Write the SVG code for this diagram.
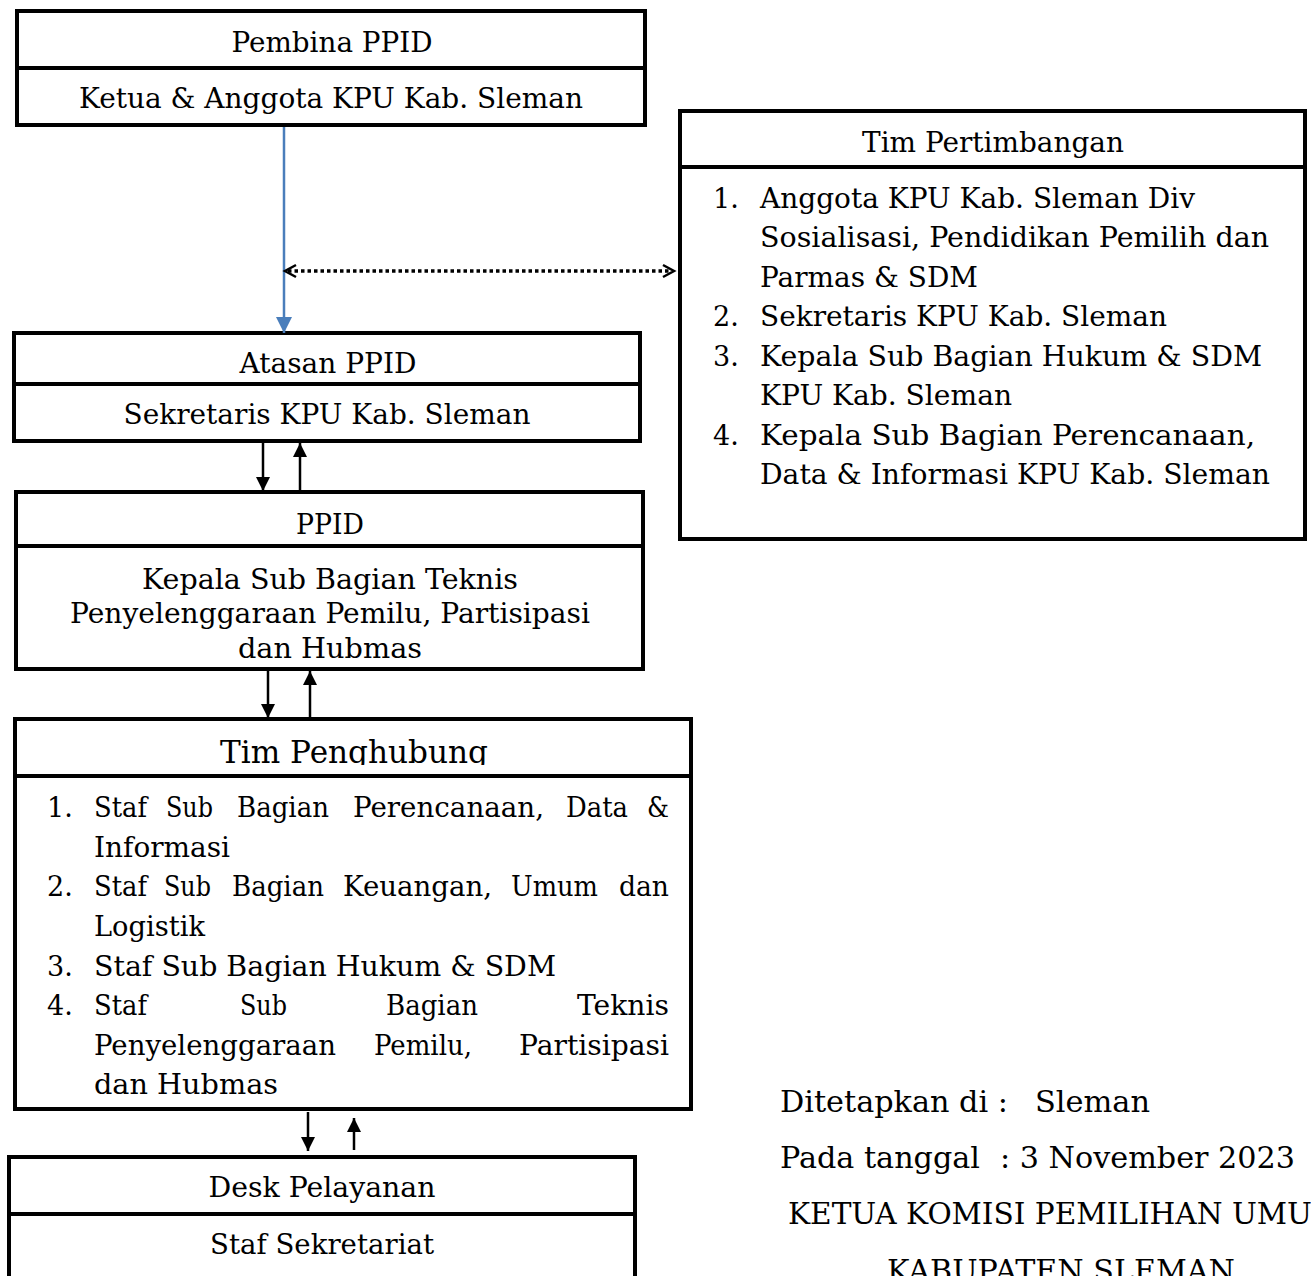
<svg xmlns="http://www.w3.org/2000/svg" width="1311" height="1276" viewBox="0 0 1311 1276">
<style>
.box{fill:#fff;stroke:#000;stroke-width:4}
.div{stroke:#000;stroke-width:4}
.t{font-family:"DejaVu Serif","Liberation Serif",serif;font-size:27px;fill:#000}
.s{font-size:29px}
.tc{text-anchor:middle}
.ar{stroke:#000;stroke-width:2.5;fill:none}
</style>
<defs>
<marker id="ah" markerUnits="userSpaceOnUse" markerWidth="14" markerHeight="16" viewBox="0 0 14 16" refX="14" refY="8" orient="auto">
<path d="M0,1 L14,8 L0,15 Z" fill="#000"/>
</marker>
<marker id="ahb" markerUnits="userSpaceOnUse" markerWidth="16" markerHeight="16" viewBox="0 0 16 16" refX="16" refY="8" orient="auto">
<path d="M0,0 L16,8 L0,16 Z" fill="#4a7ebb"/>
</marker>
<clipPath id="clipPeng"><rect x="15" y="719" width="676" height="46"/></clipPath>
</defs>

<g id="pembina">
<rect class="box" x="17" y="11" width="628" height="114"/>
<line class="div" x1="17" y1="68" x2="645" y2="68"/>
<text class="t tc" x="332" y="52" textLength="201" lengthAdjust="spacingAndGlyphs">Pembina PPID</text>
<text class="t tc" x="331" y="108" textLength="504" lengthAdjust="spacingAndGlyphs">Ketua &amp; Anggota KPU Kab. Sleman</text>
</g>

<g id="tim-pertimbangan">
<rect class="box" x="680" y="111" width="625" height="428"/>
<line class="div" x1="680" y1="167" x2="1305" y2="167"/>
<text class="t tc" x="993" y="152" textLength="262" lengthAdjust="spacingAndGlyphs">Tim Pertimbangan</text>
<text class="t" x="713" y="208">1.</text>
<text class="t" x="760" y="208" textLength="435" lengthAdjust="spacingAndGlyphs">Anggota KPU Kab. Sleman Div</text>
<text class="t" x="760" y="247" textLength="509" lengthAdjust="spacingAndGlyphs">Sosialisasi, Pendidikan Pemilih dan</text>
<text class="t" x="760" y="287" textLength="218" lengthAdjust="spacingAndGlyphs">Parmas &amp; SDM</text>
<text class="t" x="713" y="326">2.</text>
<text class="t" x="760" y="326" textLength="407" lengthAdjust="spacingAndGlyphs">Sekretaris KPU Kab. Sleman</text>
<text class="t" x="713" y="366">3.</text>
<text class="t" x="760" y="366" textLength="502" lengthAdjust="spacingAndGlyphs">Kepala Sub Bagian Hukum &amp; SDM</text>
<text class="t" x="760" y="405" textLength="252" lengthAdjust="spacingAndGlyphs">KPU Kab. Sleman</text>
<text class="t" x="713" y="445">4.</text>
<text class="t" x="760" y="445" textLength="495" lengthAdjust="spacingAndGlyphs">Kepala Sub Bagian Perencanaan,</text>
<text class="t" x="760" y="484" textLength="510" lengthAdjust="spacingAndGlyphs">Data &amp; Informasi KPU Kab. Sleman</text>
</g>

<g id="atasan">
<rect class="box" x="14" y="333" width="626" height="108"/>
<line class="div" x1="14" y1="384" x2="640" y2="384"/>
<text class="t tc" x="328" y="373" textLength="177" lengthAdjust="spacingAndGlyphs">Atasan PPID</text>
<text class="t tc" x="327" y="424" textLength="407" lengthAdjust="spacingAndGlyphs">Sekretaris KPU Kab. Sleman</text>
</g>

<g id="ppid">
<rect class="box" x="16" y="492" width="627" height="177"/>
<line class="div" x1="16" y1="546" x2="643" y2="546"/>
<text class="t tc" x="330" y="534" textLength="68" lengthAdjust="spacingAndGlyphs">PPID</text>
<text class="t tc" x="330" y="589" textLength="376" lengthAdjust="spacingAndGlyphs">Kepala Sub Bagian Teknis</text>
<text class="t tc" x="330" y="623" textLength="520" lengthAdjust="spacingAndGlyphs">Penyelenggaraan Pemilu, Partisipasi</text>
<text class="t tc" x="330" y="658" textLength="184" lengthAdjust="spacingAndGlyphs">dan Hubmas</text>
</g>

<g id="tim-penghubung">
<rect class="box" x="15" y="719" width="676" height="390"/>
<line class="div" x1="15" y1="776" x2="691" y2="776"/>
<text class="t tc" x="354" y="763" style="font-size:31px" textLength="268" lengthAdjust="spacingAndGlyphs" clip-path="url(#clipPeng)">Tim Penghubung</text>
<text class="t" x="47" y="817">1.</text>
<text class="t" x="94" y="817" textLength="53" lengthAdjust="spacingAndGlyphs">Staf</text>
<text class="t" x="166" y="817" textLength="47" lengthAdjust="spacingAndGlyphs">Sub</text>
<text class="t" x="237" y="817" textLength="92" lengthAdjust="spacingAndGlyphs">Bagian</text>
<text class="t" x="353" y="817" textLength="191" lengthAdjust="spacingAndGlyphs">Perencanaan,</text>
<text class="t" x="566" y="817" textLength="62" lengthAdjust="spacingAndGlyphs">Data</text>
<text class="t" x="647" y="817" textLength="22" lengthAdjust="spacingAndGlyphs">&amp;</text>
<text class="t" x="94" y="857" textLength="136" lengthAdjust="spacingAndGlyphs">Informasi</text>
<text class="t" x="47" y="896">2.</text>
<text class="t" x="94" y="896" textLength="53" lengthAdjust="spacingAndGlyphs">Staf</text>
<text class="t" x="164" y="896" textLength="47" lengthAdjust="spacingAndGlyphs">Sub</text>
<text class="t" x="232" y="896" textLength="92" lengthAdjust="spacingAndGlyphs">Bagian</text>
<text class="t" x="343" y="896" textLength="149" lengthAdjust="spacingAndGlyphs">Keuangan,</text>
<text class="t" x="511" y="896" textLength="87" lengthAdjust="spacingAndGlyphs">Umum</text>
<text class="t" x="619" y="896" textLength="50" lengthAdjust="spacingAndGlyphs">dan</text>
<text class="t" x="94" y="936" textLength="111" lengthAdjust="spacingAndGlyphs">Logistik</text>
<text class="t" x="47" y="976">3.</text>
<text class="t" x="94" y="976" textLength="462" lengthAdjust="spacingAndGlyphs">Staf Sub Bagian Hukum &amp; SDM</text>
<text class="t" x="47" y="1015">4.</text>
<text class="t" x="94" y="1015" textLength="53" lengthAdjust="spacingAndGlyphs">Staf</text>
<text class="t" x="240" y="1015" textLength="47" lengthAdjust="spacingAndGlyphs">Sub</text>
<text class="t" x="386" y="1015" textLength="92" lengthAdjust="spacingAndGlyphs">Bagian</text>
<text class="t" x="577" y="1015" textLength="92" lengthAdjust="spacingAndGlyphs">Teknis</text>
<text class="t" x="94" y="1055" textLength="242" lengthAdjust="spacingAndGlyphs">Penyelenggaraan</text>
<text class="t" x="374" y="1055" textLength="98" lengthAdjust="spacingAndGlyphs">Pemilu,</text>
<text class="t" x="519" y="1055" textLength="150" lengthAdjust="spacingAndGlyphs">Partisipasi</text>
<text class="t" x="94" y="1094" textLength="184" lengthAdjust="spacingAndGlyphs">dan Hubmas</text>
</g>

<g id="desk-pelayanan">
<rect class="box" x="9" y="1157" width="626" height="130"/>
<line class="div" x1="9" y1="1214" x2="635" y2="1214"/>
<text class="t tc" x="322" y="1197" textLength="227" lengthAdjust="spacingAndGlyphs">Desk Pelayanan</text>
<text class="t tc" x="322" y="1254" textLength="224" lengthAdjust="spacingAndGlyphs">Staf Sekretariat</text>
</g>

<g id="pengesahan">
<text class="t s" x="780" y="1112" textLength="228" lengthAdjust="spacingAndGlyphs">Ditetapkan di :</text>
<text class="t s" x="1035" y="1112" textLength="115" lengthAdjust="spacingAndGlyphs">Sleman</text>
<text class="t s" x="780" y="1168" textLength="200" lengthAdjust="spacingAndGlyphs">Pada tanggal</text>
<text class="t s" x="1000" y="1168" textLength="295" lengthAdjust="spacingAndGlyphs">: 3 November 2023</text>
<text class="t s" x="788" y="1224" textLength="524" lengthAdjust="spacingAndGlyphs">KETUA KOMISI PEMILIHAN UMU</text>
<text class="t s" x="887" y="1281" textLength="348" lengthAdjust="spacingAndGlyphs">KABUPATEN SLEMAN</text>
</g>

<g id="connectors">
<line x1="284" y1="127" x2="284" y2="333" stroke="#4a7ebb" stroke-width="2.5" marker-end="url(#ahb)"/>
<line x1="288" y1="271" x2="671" y2="271" stroke="#000" stroke-width="3.5" stroke-dasharray="3.5 3"/>
<path class="ar" d="M296,265 L285,271 L296,277"/>
<path class="ar" d="M663,265 L674,271 L663,277"/>
<line class="ar" x1="263" y1="443" x2="263" y2="491" marker-end="url(#ah)"/>
<line class="ar" x1="300" y1="491" x2="300" y2="443" marker-end="url(#ah)"/>
<line class="ar" x1="268" y1="671" x2="268" y2="718" marker-end="url(#ah)"/>
<line class="ar" x1="310" y1="718" x2="310" y2="671" marker-end="url(#ah)"/>
<line class="ar" x1="308" y1="1112" x2="308" y2="1151" marker-end="url(#ah)"/>
<line class="ar" x1="354" y1="1150" x2="354" y2="1118" marker-end="url(#ah)"/>
</g>
</svg>
